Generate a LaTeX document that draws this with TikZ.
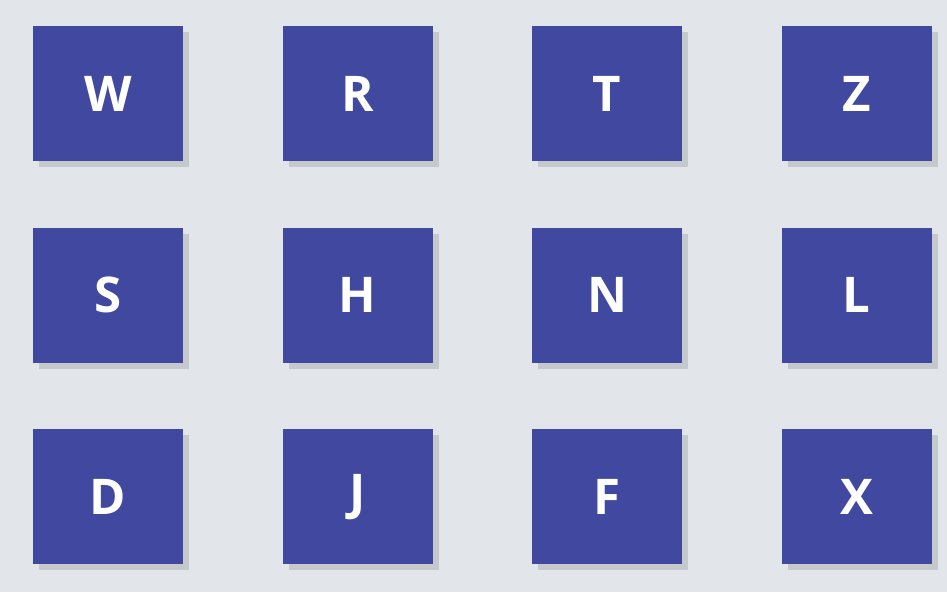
\documentclass[tikz,border=0pt]{standalone}
\usepackage{fontspec}
\setmainfont{Open Sans}
\usepackage{tikz}
\usetikzlibrary{positioning,shadows}
\definecolor{cardblue}{RGB}{64,72,160}
\definecolor{pagegray}{RGB}{226,229,233}

\begin{document}
\begin{tikzpicture}[
    font=\fontsize{35}{40}\selectfont\bfseries,
    node distance=1.65cm and 2.475cm,
    card/.style={rectangle, fill=cardblue, text=white, minimum width=3.75cm, minimum height=3.375cm, inner sep=0pt,
        drop shadow={shadow xshift=0.15cm, shadow yshift=-0.15cm, opacity=0.12, fill=black}}
]
% --- Page background ---
\fill[pagegray] (0,0) rectangle (23.675,-14.8);
\useasboundingbox (0,0) rectangle (23.675,-14.8);
% --- Top row ---
\node[card] (W) at (2.7,-2.3375) {W};
\node[card, right=of W] (R) {R};
\node[card, right=of R] (T) {T};
\node[card, right=of T] (Z) {Z};
% --- Middle row ---
\node[card, below=of W] (S) {S};
\node[card, right=of S] (H) {H};
\node[card, right=of H] (N) {N};
\node[card, right=of N] (L) {L};
% --- Bottom row ---
\node[card, below=of S] (D) {D};
\node[card, right=of D] (J) {J};
\node[card, right=of J] (F) {F};
\node[card, right=of F] (X) {X};
\end{tikzpicture}
\end{document}
